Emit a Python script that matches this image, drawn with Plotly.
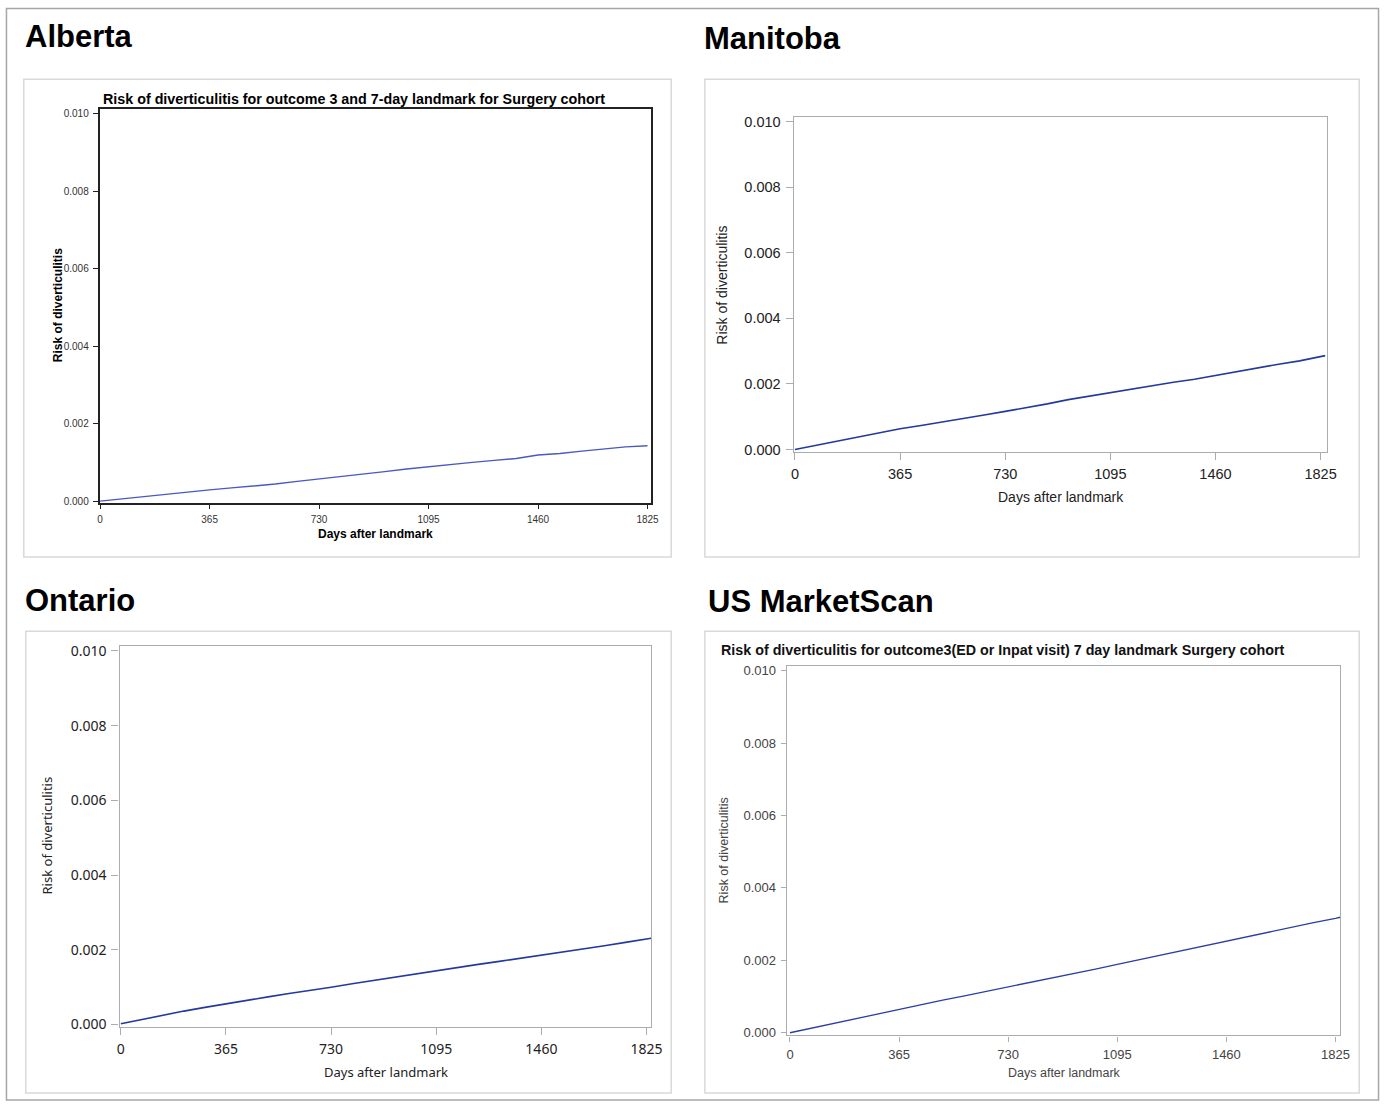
import plotly.graph_objects as go

# Follow-up days after the 7-day landmark
days = [0, 73, 146, 219, 292, 365, 438, 511, 584, 657, 730, 803, 876, 949,
        1022, 1095, 1168, 1241, 1314, 1387, 1460, 1533, 1606, 1679, 1752, 1825]
# the Manitoba, Ontario and US cohorts have follow-up a little past day 1825
days_ext = days + [1841]

# Cumulative risk of diverticulitis, surgery cohort
risk_alberta = [0.00000, 0.00006, 0.00012, 0.00017, 0.00023, 0.00029, 0.00034,
                0.00039, 0.00044, 0.00051, 0.00057, 0.00063, 0.00069, 0.00076,
                0.00083, 0.00089, 0.00095, 0.00100, 0.00105, 0.00110, 0.00119,
                0.00123, 0.00129, 0.00134, 0.00140, 0.00143]
risk_manitoba = [0.00000, 0.00013, 0.00026, 0.00039, 0.00051, 0.00063, 0.00073,
                 0.00083, 0.00094, 0.00105, 0.00116, 0.00127, 0.00139, 0.00152,
                 0.00163, 0.00173, 0.00183, 0.00194, 0.00205, 0.00214, 0.00226,
                 0.00238, 0.00249, 0.00260, 0.00270, 0.00283, 0.00286]
risk_ontario = [0.00002, 0.00014, 0.00025, 0.00036, 0.00046, 0.00056, 0.00065,
                0.00074, 0.00083, 0.00091, 0.00100, 0.00109, 0.00118, 0.00127,
                0.00135, 0.00144, 0.00153, 0.00161, 0.00169, 0.00177, 0.00185,
                0.00194, 0.00203, 0.00211, 0.00220, 0.00229, 0.00231]
risk_us = [0.00000, 0.00013, 0.00027, 0.00040, 0.00053, 0.00066, 0.00078,
           0.00090, 0.00102, 0.00114, 0.00126, 0.00139, 0.00151, 0.00164,
           0.00176, 0.00189, 0.00202, 0.00215, 0.00228, 0.00241, 0.00254,
           0.00267, 0.00279, 0.00292, 0.00304, 0.00316, 0.00319]

x_ticks = [0, 365, 730, 1095, 1460, 1825]
y_ticks = [0.000, 0.002, 0.004, 0.006, 0.008, 0.010]

regions = ["Alberta", "Manitoba", "Ontario", "US MarketScan"]
alberta_title = "Risk of diverticulitis for outcome 3 and 7-day landmark for Surgery cohort"
us_title = "Risk of diverticulitis for outcome3(ED or Inpat visit) 7 day landmark Surgery cohort"
x_label = "Days after landmark"
y_label = "Risk of diverticulitis"

W, H = 1392, 1109


def fx(p):
    return p / W


def fy(p):
    return 1 - p / H


ARIAL = "Liberation Sans, Arial, sans-serif"
SEGOE = "Noto Sans, Open Sans, sans-serif"

# per-panel frame (pixels), axis ranges and styling
panels = [
    dict(name="alberta", x=days, y=risk_alberta, frame=(97.5, 655, 105, 503),
         xr=[-2, 1838], yr=[-0.000038, 0.010128], axcol="#222222", axw=1.6,
         font=dict(family=ARIAL, size=10, color="#333333"), ticklen=5,
         color="#4a58c0", lw=1.4),
    dict(name="manitoba", x=days_ext, y=risk_manitoba,
         frame=(798.7, 1337, 113.3, 451.7),
         xr=[-4.5, 1845.6], yr=[-0.000072, 0.010133], axcol="#a9adb2", axw=1.3,
         font=dict(family=ARIAL, size=14.5, color="#222222"), ticklen=7,
         color="#24399c", lw=1.6),
    dict(name="ontario", x=days_ext, y=risk_ontario,
         frame=(117.7, 655, 648, 1033),
         xr=[-4.5, 1842], yr=[-0.000061, 0.010132], axcol="#a9adb2", axw=1.3,
         font=dict(family=SEGOE, size=14, color="#222222"), ticklen=7,
         color="#24399c", lw=1.6),
    dict(name="us", x=days_ext, y=risk_us, frame=(791.7, 1351, 668.3, 1041.7),
         xr=[-10.9, 1841.6], yr=[-0.000074, 0.010128], axcol="#a9adb2", axw=1.2,
         font=dict(family=ARIAL, size=13, color="#444444"), ticklen=5,
         color="#2b3fa3", lw=1.3),
]

fig = go.Figure()
layout_axes = {}
for i, p in enumerate(panels, start=1):
    x0, x1, y0, y1 = p["frame"]
    sfx = "" if i == 1 else str(i)
    fig.add_trace(go.Scatter(
        x=p["x"], y=p["y"], mode="lines",
        line=dict(color=p["color"], width=p["lw"]),
        xaxis="x" + sfx, yaxis="y" + sfx, showlegend=False,
        hoverinfo="x+y", cliponaxis=True))
    common = dict(showline=True, linecolor=p["axcol"], linewidth=p["axw"],
                  mirror=True, ticks="outside", ticklen=p["ticklen"],
                  tickwidth=1.2, tickcolor=p["axcol"], showgrid=False,
                  zeroline=False, tickfont=p["font"], fixedrange=True)
    layout_axes["xaxis" + sfx] = dict(
        domain=[fx(x0), fx(x1)], range=p["xr"], tickvals=x_ticks,
        anchor="y" + sfx, ticklabelstandoff=2, **common)
    layout_axes["yaxis" + sfx] = dict(
        domain=[fy(y1), fy(y0)], range=p["yr"], tickvals=y_ticks,
        tickformat=".3f", anchor="x" + sfx, ticklabelstandoff=2, **common)

fig.update_layout(**layout_axes)

shapes = [
    # outer frame
    dict(type="rect", xref="paper", yref="paper", x0=fx(3.5), x1=fx(1389.5),
         y0=fy(1107), y1=fy(3.5), line=dict(color="#a6a6a6", width=1.5)),
    # panel boxes
    dict(type="rect", xref="paper", yref="paper", x0=fx(21), x1=fx(675),
         y0=fy(558), y1=fy(75), line=dict(color="#d9d9d9", width=1.5)),
    dict(type="rect", xref="paper", yref="paper", x0=fx(709), x1=fx(1370),
         y0=fy(558), y1=fy(75), line=dict(color="#d9d9d9", width=1.5)),
    dict(type="rect", xref="paper", yref="paper", x0=fx(23), x1=fx(675),
         y0=fy(1100), y1=fy(633), line=dict(color="#d9d9d9", width=1.5)),
    dict(type="rect", xref="paper", yref="paper", x0=fx(709), x1=fx(1370),
         y0=fy(1100), y1=fy(633), line=dict(color="#d9d9d9", width=1.5)),
]

annotations = []


def note(text, x, y, size, family=ARIAL, color="#000000", bold=False,
         xanchor="center", angle=0):
    t = "<b>%s</b>" % text if bold else text
    annotations.append(dict(
        text=t, x=fx(x), y=fy(y), xref="paper", yref="paper",
        xanchor=xanchor, yanchor="middle", showarrow=False, textangle=angle,
        font=dict(family=family, size=size, color=color)))


# region headings
note(regions[0], 20, 32, 31, bold=True, xanchor="left")
note(regions[1], 706, 34, 31, bold=True, xanchor="left")
note(regions[2], 20, 602, 31, bold=True, xanchor="left")
note(regions[3], 710, 603, 31, bold=True, xanchor="left")

# Alberta panel texts
note(alberta_title, 355, 95, 14.3, bold=True)
note(x_label, 376, 535, 12, bold=True)
note(y_label, 55, 303, 12, bold=True, angle=-90)

# Manitoba panel texts
note(x_label, 1069, 497, 14, color="#222222")
note(y_label, 726, 283, 14, color="#222222", angle=-90)

# Ontario panel texts
note(x_label, 387, 1079, 13, family=SEGOE, color="#222222")
note(y_label, 44, 840, 13, family=SEGOE, color="#222222", angle=-90)

# US MarketScan panel texts
note(us_title, 723, 652, 14.3, bold=True, xanchor="left", color="#111111")
note(x_label, 1072, 1080, 12.5, color="#444444")
note(y_label, 728, 855, 12.5, color="#444444", angle=-90)

fig.update_layout(
    width=W, height=H, margin=dict(l=0, r=0, t=0, b=0),
    paper_bgcolor="white", plot_bgcolor="white",
    shapes=shapes, annotations=annotations, showlegend=False)

fig.write_html("out.html", config={"displayModeBar": False})
